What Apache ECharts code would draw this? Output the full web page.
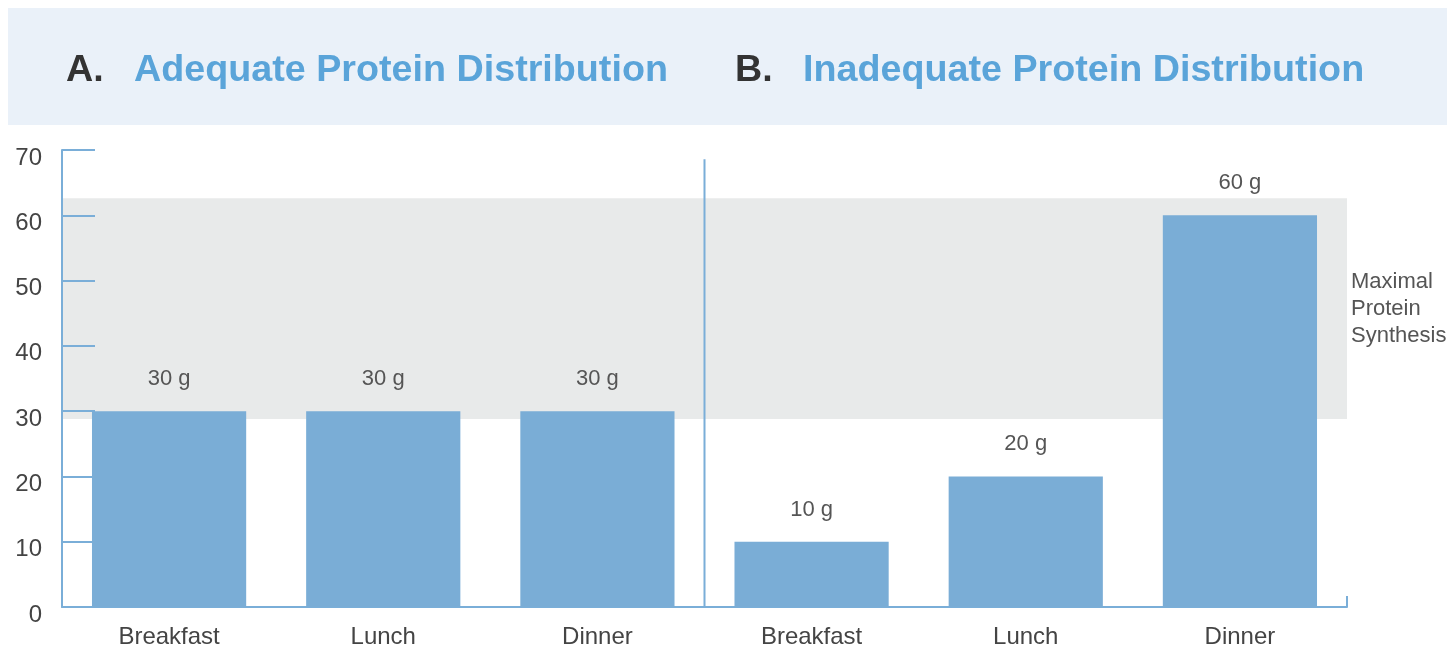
<!DOCTYPE html>
<html>
<head>
<meta charset="utf-8">
<script src="https://cdn.jsdelivr.net/npm/echarts@6/dist/echarts.min.js"></script>
<style>
  html, body { margin: 0; padding: 0; background: #fff; }
  #chart { width: 1447px; height: 652px; }
</style>
</head>
<body>
<div id="chart"></div>
<script>
// --- Data ---
const categories = ['Breakfast', 'Lunch', 'Dinner', 'Breakfast', 'Lunch', 'Dinner']
const protein = [30, 30, 30, 10, 20, 60]
const synthesisBand = [28.8, 62.6]
const dividerLine = [[3, 0], [3, 68.6]]
const yMin = 0
const yMax = 70
const yStep = 10

const axisBlue = '#7aaed8'
const barBlue = '#7aadd6'
const titleBlue = '#5aa4d9'
const textGrey = '#444'
const titleFont = 'bold 37.7px Liberation Sans'

const chart = echarts.init(document.getElementById('chart'))

const option = {
  backgroundColor: '#fff',
  animation: false,
  textStyle: { fontFamily: 'Liberation Sans, Arial, sans-serif' },
  graphic: [
    {
      type: 'rect',
      shape: { x: 8, y: 8, width: 1439, height: 117 },
      style: { fill: '#eaf1f9' },
      z: -1,
    },
    {
      type: 'text', x: 66, y: 71,
      style: { text: 'A.', fill: '#333', font: titleFont, verticalAlign: 'middle' },
    },
    {
      type: 'text', x: 134, y: 71,
      style: { text: 'Adequate Protein Distribution', fill: titleBlue, font: titleFont, verticalAlign: 'middle' },
    },
    {
      type: 'text', x: 735, y: 71,
      style: { text: 'B.', fill: '#333', font: titleFont, verticalAlign: 'middle' },
    },
    {
      type: 'text', x: 803, y: 71,
      style: { text: 'Inadequate Protein Distribution', fill: titleBlue, font: titleFont, verticalAlign: 'middle' },
    },
  ],
  grid: { left: 62, right: 100, top: 150, bottom: 45 },
  xAxis: [
    {
      type: 'category',
      data: categories,
      axisLine: { lineStyle: { color: axisBlue, width: 2 } },
      axisTick: { show: false },
      axisLabel: { color: textGrey, fontSize: 24, margin: 18 },
    },
    {
      type: 'value',
      min: 0,
      max: 6,
      interval: 6,
      position: 'bottom',
      axisLine: { show: false },
      axisTick: { show: true, inside: true, length: 11, lineStyle: { color: axisBlue, width: 2 } },
      axisLabel: { show: false },
      splitLine: { show: false },
    },
  ],
  yAxis: {
    type: 'value',
    min: yMin,
    max: yMax,
    interval: yStep,
    z: 2,
    axisLine: { show: true, lineStyle: { color: axisBlue, width: 2 } },
    axisTick: { show: true, inside: true, length: 33, lineStyle: { color: axisBlue, width: 2 } },
    splitLine: { show: false },
    axisLabel: { color: textGrey, fontSize: 24, margin: 20, verticalAlign: 'top', lineHeight: 16 },
  },
  series: [
    {
      type: 'line',
      xAxisIndex: 1,
      data: dividerLine,
      symbol: 'none',
      lineStyle: { color: axisBlue, width: 2 },
      z: 1,
      markArea: {
        silent: true,
        itemStyle: { color: '#e8eaea' },
        label: {
          show: true,
          position: 'right',
          distance: 4,
          color: '#555',
          fontSize: 22,
          lineHeight: 27,
          align: 'left',
        },
        data: [[
          { yAxis: synthesisBand[0], name: 'Maximal\nProtein\nSynthesis' },
          { yAxis: synthesisBand[1] },
        ]],
      },
    },
    {
      type: 'bar',
      data: protein,
      barWidth: '72%',
      itemStyle: { color: barBlue },
      z: 3,
      label: {
        show: true,
        position: 'top',
        distance: 21,
        color: '#555',
        fontSize: 22,
        formatter: (p) => `${p.value} g`,
      },
    },
  ],
}

chart.setOption(option)
</script>
</body>
</html>
